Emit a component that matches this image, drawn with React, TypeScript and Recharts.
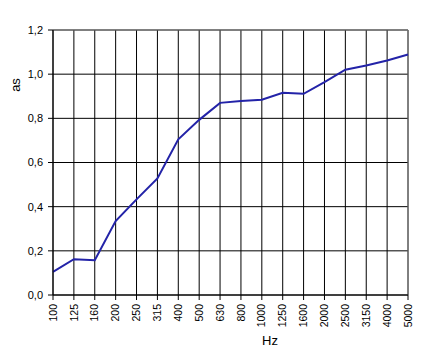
import React from 'react';
import { LineChart, Line, XAxis, YAxis, CartesianGrid, ReferenceLine } from 'recharts';

const frequencies = ['100', '125', '160', '200', '250', '315', '400', '500', '630', '800', '1000', '1250', '1600', '2000', '2500', '3150', '4000', '5000'];
const absorption = [0.105, 0.162, 0.157, 0.335, 0.433, 0.528, 0.705, 0.793, 0.870, 0.879, 0.884, 0.916, 0.911, 0.964, 1.02, 1.039, 1.062, 1.089];
const yTicks = [0, 0.2, 0.4, 0.6, 0.8, 1.0, 1.2];
const xLabel = 'Hz';
const yLabel = 'as';

const data = frequencies.map((f, i) => ({ f, v: absorption[i] }));

const FONT = '"Liberation Sans", Arial, sans-serif';

const XTick = (props: any) => {
  const { x, y, payload } = props;
  return (
    <text
      x={x}
      y={y + 2}
      transform={`rotate(-90, ${x}, ${y + 2})`}
      textAnchor="end"
      dy="0.35em"
      fontSize={10.5}
      fontFamily={FONT}
      fill="#000"
    >
      {payload.value}
    </text>
  );
};

export default function App() {
  return (
    <div style={{ position: 'absolute', left: 0, top: 0, width: 436, height: 362, background: '#fff' }}>
      <LineChart width={436} height={362} data={data} margin={{ top: 30, right: 28, left: 0, bottom: 27 }}>
        <CartesianGrid stroke="#000" strokeWidth={1} />
        <XAxis
          dataKey="f"
          interval={0}
          height={40}
          tick={<XTick />}
          tickSize={5}
          stroke="#000"
          axisLine={{ stroke: '#000' }}
          tickLine={{ stroke: '#000' }}
        />
        <YAxis
          domain={[0, 1.2]}
          ticks={yTicks}
          width={53}
          tickSize={5}
          tickMargin={5}
          stroke="#000"
          tick={{ fill: '#000', fontSize: 11, fontFamily: FONT }}
          tickFormatter={(v: number) => v.toFixed(1).replace('.', ',')}
        />
        <ReferenceLine y={1.2} stroke="#808080" strokeWidth={1} />
        <ReferenceLine x="5000" stroke="#808080" strokeWidth={1} />
        <Line
          type="linear"
          dataKey="v"
          stroke="#2323a8"
          strokeWidth={2}
          dot={false}
          isAnimationActive={false}
        />
      </LineChart>
      <div
        style={{
          position: 'absolute',
          left: 15,
          top: 85,
          transform: 'translate(-50%, -50%) rotate(-90deg)',
          fontFamily: FONT,
          fontSize: 13,
          color: '#000',
          lineHeight: 1,
        }}
      >
        {yLabel}
      </div>
      <div
        style={{
          position: 'absolute',
          left: 270,
          top: 340,
          transform: 'translate(-50%, -50%)',
          fontFamily: FONT,
          fontSize: 13,
          color: '#000',
          lineHeight: 1,
        }}
      >
        {xLabel}
      </div>
    </div>
  );
}
